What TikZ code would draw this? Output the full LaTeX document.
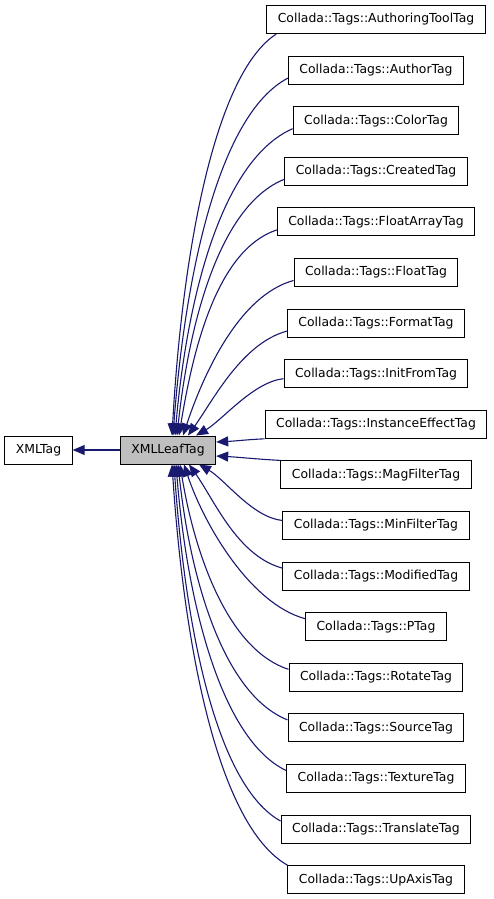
\documentclass[tikz,border=0pt]{standalone}
\usepackage{fontspec}
\setmainfont{DejaVu Sans}
\usetikzlibrary{arrows.meta}
\definecolor{edgeblue}{RGB}{25,25,112}
\definecolor{leafgray}{RGB}{191,191,191}

\begin{document}
\begin{tikzpicture}[x=1pt, y=1pt,
  classbox/.style={draw=black, line width=1pt, fill=white, minimum height=28pt,
    inner xsep=11pt, inner ysep=0pt, font=\fontsize{12.4}{14}\selectfont},
  inherit/.style={draw=edgeblue, line width=1.1pt, -{Triangle[length=12pt, width=10pt]}}]
\def\childx{376}
\useasboundingbox (0,0) rectangle (493,-899);

% BASE CLASSES
\node[classbox, fill=leafgray] (leaf) at (168,-450) {XMLLeafTag};
\node[classbox] (xmltag) at (38.5,-450) {XMLTag};
\draw[inherit] (leaf) -- (xmltag);

% DERIVED CLASSES
\node[classbox] (authoringtool) at (\childx,-19.5) {Collada::Tags::AuthoringToolTag};
\node[classbox] (author) at (\childx,-70.1) {Collada::Tags::AuthorTag};
\node[classbox] (color) at (\childx,-120.7) {Collada::Tags::ColorTag};
\node[classbox] (created) at (\childx,-171.3) {Collada::Tags::CreatedTag};
\node[classbox] (floatarray) at (\childx,-221.9) {Collada::Tags::FloatArrayTag};
\node[classbox] (float) at (\childx,-272.5) {Collada::Tags::FloatTag};
\node[classbox] (format) at (\childx,-323.1) {Collada::Tags::FormatTag};
\node[classbox] (initfrom) at (\childx,-373.7) {Collada::Tags::InitFromTag};
\node[classbox] (instanceeffect) at (\childx,-424.3) {Collada::Tags::InstanceEffectTag};
\node[classbox] (magfilter) at (\childx,-474.9) {Collada::Tags::MagFilterTag};
\node[classbox] (minfilter) at (\childx,-525.5) {Collada::Tags::MinFilterTag};
\node[classbox] (modified) at (\childx,-576.1) {Collada::Tags::ModifiedTag};
\node[classbox] (ptag) at (\childx,-626.7) {Collada::Tags::PTag};
\node[classbox] (rotate) at (\childx,-677.3) {Collada::Tags::RotateTag};
\node[classbox] (source) at (\childx,-727.9) {Collada::Tags::SourceTag};
\node[classbox] (texture) at (\childx,-778.5) {Collada::Tags::TextureTag};
\node[classbox] (translate) at (\childx,-829.1) {Collada::Tags::TranslateTag};
\node[classbox] (upaxis) at (\childx,-879.7) {Collada::Tags::UpAxisTag};

% EDGES ABOVE
\draw[inherit] ([xshift=10pt]authoringtool.south west) .. controls +(-62,-40) and +(10,181) .. ([xshift=4pt]leaf.north);
\draw[inherit] ([yshift=-8pt]author.west) .. controls +(-69,-36) and +(12,161) .. ([xshift=5pt]leaf.north);
\draw[inherit] ([yshift=-8pt]color.west) .. controls +(-71,-31) and +(12,138) .. ([xshift=7pt]leaf.north);
\draw[inherit] ([yshift=-8pt]created.west) .. controls +(-65,-26) and +(12,112) .. ([xshift=9pt]leaf.north);
\draw[inherit] ([yshift=-8pt]floatarray.west) .. controls +(-60,-20) and +(14,86) .. ([xshift=11pt]leaf.north);
\draw[inherit] ([yshift=-8pt]float.west) .. controls +(-55,-15) and +(20,60) .. ([xshift=15pt]leaf.north);
\draw[inherit] ([yshift=-8pt]format.west) .. controls +(-45,-12) and +(25,35) .. ([xshift=20pt]leaf.north);
\draw[inherit] ([yshift=-5pt]initfrom.west) .. controls +(-30,-3) and +(26,15) .. ([xshift=28pt]leaf.north);

% EDGES AT THE SIDE
\draw[inherit] (instanceeffect.south west) .. controls +(-20,-1) and +(20,1) .. ([yshift=8pt]leaf.east);
\draw[inherit] (magfilter.north west) .. controls +(-20,1) and +(20,-1) .. ([yshift=-6pt]leaf.east);

% EDGES BELOW
\draw[inherit] ([yshift=5pt]minfilter.west) .. controls +(-30,3) and +(26,-15) .. ([xshift=31pt]leaf.south);
\draw[inherit] ([yshift=8pt]modified.west) .. controls +(-45,12) and +(25,-35) .. ([xshift=21pt]leaf.south);
\draw[inherit] ([yshift=8pt]ptag.west) .. controls +(-55,15) and +(20,-60) .. ([xshift=16pt]leaf.south);
\draw[inherit] ([yshift=8pt]rotate.west) .. controls +(-62,20) and +(14,-86) .. ([xshift=12pt]leaf.south);
\draw[inherit] ([yshift=8pt]source.west) .. controls +(-65,26) and +(12,-112) .. ([xshift=10pt]leaf.south);
\draw[inherit] ([yshift=8pt]texture.west) .. controls +(-65,31) and +(11,-138) .. ([xshift=8pt]leaf.south);
\draw[inherit] ([yshift=8pt]translate.west) .. controls +(-65,36) and +(11,-161) .. ([xshift=6pt]leaf.south);
\draw[inherit] (upaxis.north west) .. controls +(-70,40) and +(12,-181) .. ([xshift=4pt]leaf.south);
\end{tikzpicture}
\end{document}
